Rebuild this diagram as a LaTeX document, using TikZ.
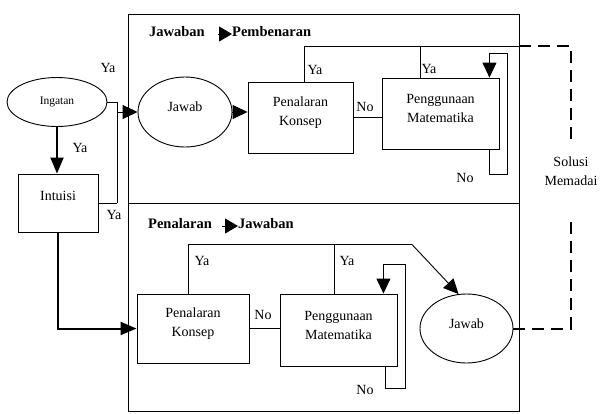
\documentclass[tikz,border=0pt]{standalone}
\usepackage{fontspec}
\setmainfont{Liberation Serif}
\usetikzlibrary{shapes.geometric,arrows.meta}
\begin{document}
\begin{tikzpicture}[x=1pt,y=-1pt,
  base/.style={line width=0.9pt},
  txt/.style={font=\fontsize{14}{19}\selectfont, inner sep=0pt, align=center},
  ttl/.style={font=\fontsize{14.5}{17}\selectfont\bfseries, inner sep=0pt},
  procbox/.style={draw, line width=0.9pt, rectangle, inner sep=0pt},
  oval/.style={draw, line width=0.9pt, ellipse, inner sep=0pt},
  conn/.style={line width=0.9pt},
  arr/.style={line width=0.9pt, -{Triangle[length=15pt,width=14pt]}},
  thickarr/.style={line width=2pt, -{Triangle[length=16pt,width=13pt]}},
  titlearr/.style={line width=0.9pt, -{Triangle[length=13pt,width=15pt]}},
  solline/.style={line width=2pt, dash pattern=on 12pt off 7pt},
  boxtext/.style={label={[txt, yshift=5pt]center:#1}},
]
\useasboundingbox (0,0) rectangle (603,413);

% frames
\draw[base] (128,14) rectangle (519,203);
\draw[base] (128,203) rectangle (519,411);

% titles
\node[ttl, anchor=west] (t1a) at (149,32) {Jawaban};
\node[ttl, anchor=west] (t1b) at (232,32) {Pembenaran};
\draw[titlearr] ([xshift=13pt,yshift=-2pt]t1a.east) -- ([yshift=-2pt]t1b.west);
\node[ttl, anchor=west] (t2a) at (148,224) {Penalaran};
\node[ttl, anchor=west] (t2b) at (238,224) {Jawaban};
\draw[titlearr] ([xshift=10pt,yshift=-2pt]t2a.east) -- ([yshift=-2pt]t2b.west);

% left part
\node[oval, minimum width=100pt, minimum height=49pt, font=\fontsize{11.5}{14}\selectfont] (ing) at (57,102) {Ingatan};
\node[procbox, minimum width=80pt, minimum height=58pt, label={[txt, yshift=7pt]center:Intuisi}] (intu) at (58,203) {};

% top section
\node[oval, minimum width=94pt, minimum height=70pt, boxtext=Jawab] (jw1) at (185,112) {};
\node[procbox, minimum width=105pt, minimum height=71pt, boxtext={Penalaran\\Konsep}] (pk1) at (300.5,117.5) {};
\node[procbox, minimum width=117pt, minimum height=71pt, boxtext={Penggunaan\\Matematika}] (pg1) at (440.5,113.5) {};

% bottom section
\node[procbox, minimum width=112pt, minimum height=69pt, boxtext={Penalaran\\Konsep}] (pk2) at (193,328.5) {};
\node[procbox, minimum width=117pt, minimum height=72pt, boxtext={Penggunaan\\Matematika}] (pg2) at (338.5,330) {};
\node[oval, minimum width=93pt, minimum height=69pt, boxtext=Jawab] (jw2) at (466.5,328.5) {};

% solution
\node[txt] (sol) at (571,171) {Solusi\\Memadai};

% labels
\node[txt] (ya1) at (108,68) {Ya};
\node[txt] (ya2) at (80,148) {Ya};
\node[txt] (ya3) at (114,215) {Ya};
\node[txt] (ya4) at (315,70) {Ya};
\node[txt] (no1) at (365,107) {No};
\node[txt] (ya5) at (429,69) {Ya};
\node[txt] (no2) at (465,178) {No};
\node[txt] (ya6) at (202,261) {Ya};
\node[txt] (ya7) at (347,261) {Ya};
\node[txt] (no3) at (263,315) {No};
\node[txt] (no4) at (365,390) {No};

% coordinates
\coordinate (jn) at (117,203);
\coordinate (c1) at (519,46);
\coordinate (d1) at (571,46);
\coordinate (d2) at (571,142);
\coordinate (d3) at (571,328.5);
\coordinate (d4) at (571,222);
\coordinate (l1a) at (507,174);
\coordinate (l1b) at (507,53);
\coordinate (l2a) at (405,388);
\coordinate (l2b) at (405,264);
\coordinate (b1) at (412,244.5);

% left connectors
\draw[thickarr] (ing.south) -- (ing.south |- intu.north);
\draw[conn] (ing.east) -| (jn);
\draw[conn] (intu.east) -- (jn);
\draw[arr] (jw1.west -| jn) -- (jw1.west);
\draw[thickarr] (intu.south) |- (pk2.west);

% top connectors
\draw[arr] (jw1.east) -- (jw1.east -| pk1.west);
\draw[conn] (pk1.east) -- (pk1.east -| pg1.west);
\draw[conn] ([xshift=3.5pt]pk1.north) |- (c1);
\draw[conn] ([xshift=-20.5pt]pg1.north) -- ([xshift=-20.5pt]pg1.north |- c1);
\draw[solline] (c1) -- (d1) -- (d2);
\draw[arr] ([xshift=-10pt]pg1.south east) |- (l1a) -- (l1b) -| ([xshift=-10pt]pg1.north east);

% bottom connectors
\draw[conn] (pk2.east) -- (pk2.east -| pg2.west);
\draw[conn] ([xshift=-5pt]pk2.north) |- (b1);
\draw[arr] (b1) -- (jw2.103);
\draw[conn] ([xshift=-4.5pt]pg2.north) -- ([xshift=-4.5pt]pg2.north |- b1);
\draw[arr] ([xshift=-12pt]pg2.south east) |- (l2a) -- (l2b) -| ([xshift=-14pt]pg2.north east);
\draw[solline] (jw2.east) -- (d3) -- (d4);
\end{tikzpicture}
\end{document}
